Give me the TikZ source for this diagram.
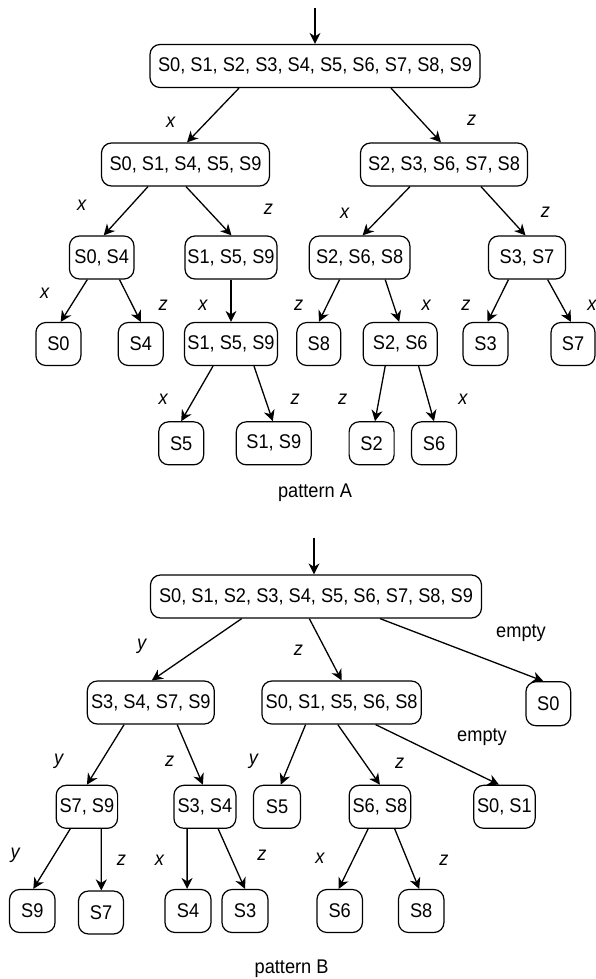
\documentclass[tikz,border=0pt]{standalone}
\usepackage{fontspec}
\setmainfont{Liberation Sans}[FakeStretch=0.92]
\usetikzlibrary{arrows.meta}
\tikzset{
  box/.style={draw=black, line width=1.2pt, rounded corners=10pt, minimum height=43pt, inner xsep=1pt, inner ysep=0pt, font=\fontsize{19.8}{22}\selectfont},
  lbl/.style={inner sep=0pt, font=\fontsize{19.8}{22}\selectfont\itshape},
  captxt/.style={inner sep=0pt, font=\fontsize{19.8}{22}\selectfont},
  arr/.style={line width=1.3pt, -{Stealth[length=11pt,width=11pt,inset=3.5pt]}}
}
\begin{document}
\begin{tikzpicture}[x=1pt,y=-1pt]
\useasboundingbox (0,0) rectangle (595,979);
% ---------- pattern A ----------
\coordinate (topA) at (315,8);
\node[box, minimum width=330pt] (rA) at (315,66) {S0, S1, S2, S3, S4, S5, S6, S7, S8, S9};
\node[box, minimum width=168pt] (aL) at (185.5,164.5) {S0, S1, S4, S5, S9};
\node[box, minimum width=167pt] (aR) at (444,164.5) {S2, S3, S6, S7, S8};
\node[box, minimum width=64.5pt] (aLL) at (101.7,257.5) {S0, S4};
\node[box, minimum width=92pt] (aLR) at (231,257.5) {S1, S5, S9};
\node[box, minimum width=100.6pt] (aRL) at (359.6,257.5) {S2, S6, S8};
\node[box, minimum width=77pt] (aRR) at (527,257.5) {S3, S7};
\node[box, minimum width=45pt] (l0) at (58.4,344) {S0};
\node[box, minimum width=45pt] (l4) at (140.8,344) {S4};
\node[box, minimum width=93pt] (aLRb) at (231,344) {S1, S5, S9};
\node[box, minimum width=44pt] (l8) at (318.8,344) {S8};
\node[box, minimum width=74pt] (aS26) at (400.2,344) {S2, S6};
\node[box, minimum width=45pt] (l3) at (485.5,344) {S3};
\node[box, minimum width=44pt] (l7) at (573,344) {S7};
\node[box, minimum width=45pt] (l5) at (181.2,443.3) {S5};
\node[box, minimum width=75pt] (l19) at (273.8,443.3) {S1, S9};
\node[box, minimum width=45pt] (l2) at (371.6,443.3) {S2};
\node[box, minimum width=45pt] (l6) at (434,443.3) {S6};

\draw[arr] (topA) -- (rA.north);
\draw[arr] ([xshift=-76pt]rA.south) -- ([xshift=1.5pt]aL.north);
\draw[arr] ([xshift=76pt]rA.south) -- ([xshift=-3pt]aR.north);
\draw[arr] ([xshift=-37.5pt]aL.south) -- ([xshift=2pt]aLL.north);
\draw[arr] ([xshift=0.5pt]aL.south) -- ([xshift=0.5pt]aLR.north);
\draw[arr] ([xshift=-34pt]aR.south) -- ([xshift=3pt]aRL.north);
\draw[arr] ([xshift=37pt]aR.south) -- ([xshift=-1.5pt]aRR.north);
\draw[arr] ([xshift=-14.4pt]aLL.south) -- ([xshift=2.3pt]l0.north);
\draw[arr] ([xshift=17.8pt]aLL.south) -- (l4.north);
\draw[arr] (aLR.south) -- (aLRb.north);
\draw[arr] ([xshift=-20pt]aRL.south) -- (l8.north);
\draw[arr] ([xshift=25.6pt]aRL.south) -- ([xshift=-1pt]aS26.north);
\draw[arr] ([xshift=-18.5pt]aRR.south) -- ([xshift=2pt]l3.north);
\draw[arr] ([xshift=20.6pt]aRR.south) -- ([xshift=-2pt]l7.north);
\draw[arr] ([xshift=-18pt]aLRb.south) -- (l5.north);
\draw[arr] ([xshift=23pt]aLRb.south) -- ([xshift=-1pt]l19.north);
\draw[arr] ([xshift=-15pt]aS26.south) -- ([xshift=3.4pt]l2.north);
\draw[arr] ([xshift=18.4pt]aS26.south) -- (l6.north);

\node[lbl] (tA1) at (170.8,122) {x};
\node[lbl] (tA2) at (471.7,120) {z};
\node[lbl] (tA3) at (81.6,205) {x};
\node[lbl] (tA4) at (268.3,209.3) {z};
\node[lbl] (tA5) at (344.6,213.3) {x};
\node[lbl] (tA6) at (545.3,212.3) {z};
\node[lbl] (tA7) at (44.8,293.3) {x};
\node[lbl] (tA8) at (163.2,305) {z};
\node[lbl] (tA9) at (203,305) {x};
\node[lbl] (tA10) at (298.7,305) {z};
\node[lbl] (tA11) at (426.2,305) {x};
\node[lbl] (tA12) at (466,305) {z};
\node[lbl] (tA13) at (592,305) {x};
\node[lbl] (tA14) at (163.2,399.3) {x};
\node[lbl] (tA15) at (295.3,399.3) {z};
\node[lbl] (tA16) at (342.7,399.3) {z};
\node[lbl] (tA17) at (463,399.3) {x};
\node[captxt] (capA) at (315,492.3) {pattern A};

% ---------- pattern B ----------
\coordinate (topB) at (314,538);
\node[box, minimum width=331pt] (rB) at (316,596.5) {S0, S1, S2, S3, S4, S5, S6, S7, S8, S9};
\node[box, minimum width=127pt] (b1) at (150.8,702.5) {S3, S4, S7, S9};
\node[box, minimum width=159.4pt] (b2) at (341.6,702.5) {S0, S1, S5, S6, S8};
\node[box, minimum width=44.7pt, minimum height=44pt] (bS0) at (548.3,703.7) {S0};
\node[box, minimum width=61.4pt] (b79) at (86.9,806.8) {S7, S9};
\node[box, minimum width=62pt] (b34) at (204.9,806.8) {S3, S4};
\node[box, minimum width=47pt] (b5) at (277,806.8) {S5};
\node[box, minimum width=61.5pt] (b68) at (379.9,806.8) {S6, S8};
\node[box, minimum width=61.5pt] (b01) at (504.4,806.8) {S0, S1};
\node[box, minimum width=45.5pt] (m9) at (32.3,911) {S9};
\node[box, minimum width=45pt] (m7) at (101,912.5) {S7};
\node[box, minimum width=46pt] (m4) at (188,911) {S4};
\node[box, minimum width=46pt] (m3) at (245,911) {S3};
\node[box, minimum width=45.5pt] (m6) at (339.7,911) {S6};
\node[box, minimum width=45.5pt] (m8) at (421.2,911) {S8};

\draw[arr] (topB) -- ([xshift=-2pt]rB.north);
\draw[arr] ([xshift=-74.3pt]rB.south) -- ([xshift=1pt]b1.north);
\draw[arr] ([xshift=-6.7pt]rB.south) -- (b2.north);
\draw[arr] ([xshift=64pt]rB.south) -- ([xshift=-5pt]bS0.north);
\draw[arr] ([xshift=-26.7pt]b1.south) -- (b79.north);
\draw[arr] ([xshift=26.4pt]b1.south) -- ([xshift=-2pt]b34.north);
\draw[arr] ([xshift=-36pt]b2.south) -- ([xshift=3.8pt]b5.north);
\draw[arr] ([xshift=-3.8pt]b2.south) -- (b68.north);
\draw[arr] ([xshift=34pt]b2.south) -- ([xshift=-5.4pt]b01.north);
\draw[arr] ([xshift=-16.7pt]b79.south) -- ([xshift=1pt]m9.north);
\draw[arr] ([xshift=14.4pt]b79.south) -- ([xshift=0.3pt]m7.north);
\draw[arr] ([xshift=-17.8pt]b34.south) -- ([xshift=-0.9pt]m4.north);
\draw[arr] ([xshift=13.3pt]b34.south) -- (m3.north);
\draw[arr] ([xshift=-11.8pt]b68.south) -- ([xshift=-1pt]m6.north);
\draw[arr] ([xshift=14.8pt]b68.south) -- ([xshift=-2pt]m8.north);

\node[lbl] (tB1) at (141.7,646.7) {y};
\node[lbl] (tB2) at (298.3,650) {z};
\node[captxt] (tB3) at (521,633.3) {empty};
\node[lbl] (tB4) at (58.8,761.7) {y};
\node[lbl] (tB5) at (169.6,761.7) {z};
\node[lbl] (tB6) at (253.5,761.7) {y};
\node[lbl] (tB7) at (399.6,763.3) {z};
\node[captxt] (tB8) at (482,737.3) {empty};
\node[lbl] (tB9) at (15.2,855) {y};
\node[lbl] (tB10) at (121.4,860) {z};
\node[lbl] (tB11) at (159.4,860) {x};
\node[lbl] (tB12) at (261.9,855) {z};
\node[lbl] (tB13) at (320,858) {x};
\node[lbl] (tB14) at (444,860) {z};
\node[captxt] (capB) at (291.6,968.5) {pattern B};
\end{tikzpicture}
\end{document}
